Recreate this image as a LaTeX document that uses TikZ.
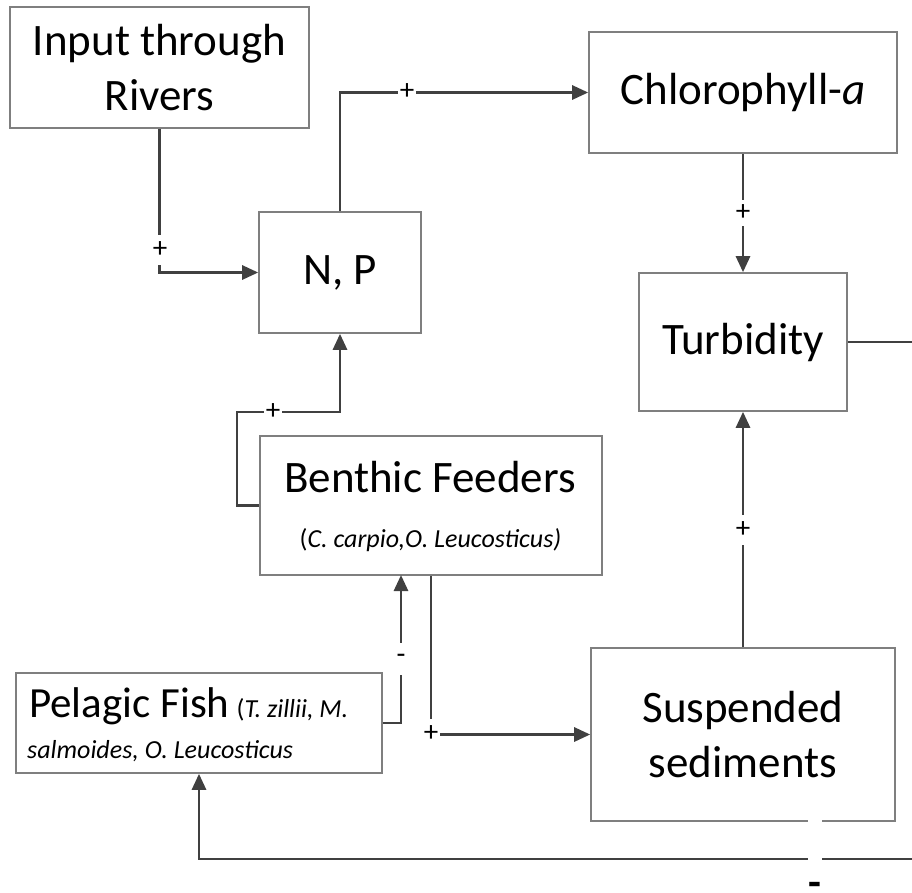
\documentclass[tikz,border=0pt]{standalone}
\usepackage{fontspec}
\setmainfont{Carlito}
\usetikzlibrary{arrows.meta}
\definecolor{linegray}{HTML}{404040}
\definecolor{boxgray}{HTML}{7F7F7F}
\newcommand\bigtext{\fontsize{45}{55}\selectfont}
\newcommand\smalltext{\fontsize{26}{30}\selectfont}
\newcommand\signtext{\fontsize{29}{29}\selectfont}
\tikzset{
  box/.style={draw=boxgray, line width=1.6pt, fill=white, inner sep=0pt,
              align=center, font=\bigtext},
  link/.style={draw=linegray, line width=2.8pt},
  conn/.style={link, -{Triangle[length=16pt,width=14pt]}},
  sign/.style={fill=white, inner xsep=1.5pt, inner ysep=0pt, minimum height=30pt,
               font=\signtext, text=black},
  plain/.style={inner sep=0pt}
}
\begin{document}
\begin{tikzpicture}[x=1pt,y=-1pt]
\useasboundingbox (0,0) rectangle (912,892);
\clip (0,0) rectangle (912,892);

% boxes
\node[box, minimum width=299pt, minimum height=121pt] (inp) at (159.5,67.5) {Input through\\Rivers};
\node[box, minimum width=162pt, minimum height=121pt] (np) at (340,272.5) {N, P};
\node[box, minimum width=308pt, minimum height=121pt] (chl) at (743,92.5) {Chlorophyll-\textit{a}};
\node[box, minimum width=208pt, minimum height=138pt] (turb) at (743,342) {Turbidity};
\node[box, minimum width=342pt, minimum height=139pt] (benth) at (431,505.5) {};
\node[box, minimum width=366pt, minimum height=100pt] (pel) at (199,723) {};
\node[box, minimum width=304pt, minimum height=173pt] (susp) at (743,734.5) {Suspended\\sediments};

% texts of the two fish boxes
\node[plain, anchor=base, font=\bigtext] (benthT) at (430,492) {Benthic Feeders};
\node[plain, anchor=base, font=\smalltext] (benthS) at (430.5,547) {(\textit{C. carpio,O. Leucosticus)}};
\node[plain, anchor=base west, font=\fontsize{43}{50}\selectfont] (pelT) at (29,717)
  {Pelagic Fish\,{\smalltext(\textit{T. zillii, M.}}};
\node[plain, anchor=base west, font=\smalltext] (pelS) at (27,758) {\textit{salmoides, O. Leucosticus}};

% helper points
\coordinate (bnp) at (237,412);
\coordinate (pbtip) at (401,575);
\coordinate (turbout) at (916,342);
\coordinate (fbin) at (916,859);

% connectors
\draw[conn] (inp.south) |- (np.west);
\draw[conn] (np.north) |- (chl.west);
\draw[conn] (chl.south) -- (turb.north);
\draw[conn] (susp.north) -- (turb.south);
\draw[conn] (benth.west) -| (bnp) -| (np.south);
\draw[conn] (pel.east) -| (pbtip);
\draw[conn] (benth.south) |- (susp.west);
\draw[link] (turb.east) -- (turbout);
\draw[conn] (fbin) -| (pel.south);

% signs
\node[sign] (s1) at (160,250) {+};
\node[sign, minimum height=0pt, inner ysep=1pt] (s2) at (407,92) {+};
\node[sign, minimum height=26pt] (s3) at (743,213) {+};
\node[sign] (s4) at (743,530) {+};
\node[sign, minimum height=0pt, inner ysep=1pt] (s5) at (273,412) {+};
\node[sign, minimum height=32pt] (s6) at (401,659) {-};
\node[sign] (s7) at (431,734) {+};

% feedback sign
\node[fill=white, minimum width=14pt, minimum height=52pt, inner sep=0pt] (fbgap) at (815,840) {};
\node[plain, anchor=base, text depth=0pt, font=\fontsize{42}{42}\selectfont\bfseries] (fbsign) at (815,896) {-};
\end{tikzpicture}
\end{document}
